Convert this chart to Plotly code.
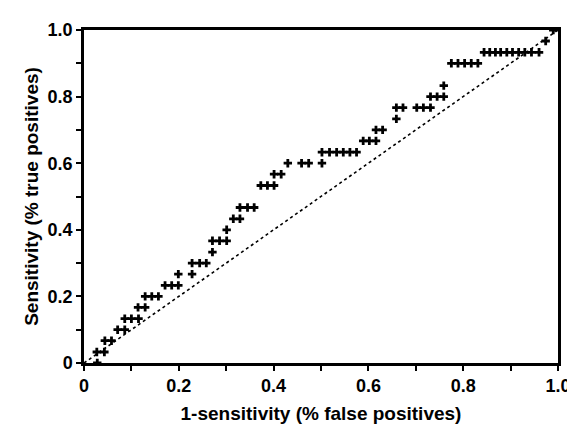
import plotly.graph_objects as go

# ROC points (false positive rate, true positive rate)
fpr = [0.028,
       0.027, 0.043,
       0.044, 0.058,
       0.071, 0.086,
       0.086, 0.100, 0.115,
       0.114, 0.129,
       0.129, 0.143, 0.157,
       0.171, 0.185, 0.199,
       0.199, 0.228,
       0.228, 0.244, 0.258,
       0.271,
       0.271, 0.286, 0.301,
       0.301,
       0.315, 0.329,
       0.329, 0.345, 0.359,
       0.373, 0.387, 0.401,
       0.401, 0.416,
       0.430, 0.459, 0.474, 0.502,
       0.502, 0.518, 0.533, 0.547, 0.561, 0.575,
       0.589, 0.602, 0.616,
       0.616, 0.630,
       0.659,
       0.659, 0.673, 0.702, 0.716, 0.731,
       0.731, 0.745, 0.759,
       0.759,
       0.775, 0.789, 0.803, 0.817, 0.831,
       0.844, 0.856, 0.868, 0.879, 0.892, 0.904, 0.917, 0.930, 0.944, 0.960,
       0.974, 0.990]
tpr = [0.0,
       0.033, 0.033,
       0.067, 0.067,
       0.100, 0.100,
       0.133, 0.133, 0.133,
       0.167, 0.167,
       0.200, 0.200, 0.200,
       0.233, 0.233, 0.233,
       0.267, 0.267,
       0.300, 0.300, 0.300,
       0.333,
       0.367, 0.367, 0.367,
       0.400,
       0.433, 0.433,
       0.467, 0.467, 0.467,
       0.533, 0.533, 0.533,
       0.567, 0.567,
       0.600, 0.600, 0.600, 0.600,
       0.633, 0.633, 0.633, 0.633, 0.633, 0.633,
       0.667, 0.667, 0.667,
       0.700, 0.700,
       0.733,
       0.767, 0.767, 0.767, 0.767, 0.767,
       0.800, 0.800, 0.800,
       0.833,
       0.900, 0.900, 0.900, 0.900, 0.900,
       0.933, 0.933, 0.933, 0.933, 0.933, 0.933, 0.933, 0.933, 0.933, 0.933,
       0.967, 1.0]

diag = [0, 1]
tick_vals = [0, 0.1, 0.2, 0.3, 0.4, 0.5, 0.6, 0.7, 0.8, 0.9, 1.0]
tick_text = ["0", "", "0.2", "", "0.4", "", "0.6", "", "0.8", "", "1.0"]

FAM = "Liberation Sans, Arial, sans-serif"

fig = go.Figure()
fig.add_trace(go.Scatter(x=diag, y=diag, mode="lines",
                         line=dict(color="black", width=1.6, dash="dot"),
                         hoverinfo="skip"))
fig.add_trace(go.Scatter(x=fpr, y=tpr, mode="markers",
                         marker=dict(symbol="cross", size=7, color="black",
                                     line=dict(width=0))))

axis_common = dict(range=[0, 1], tickvals=tick_vals, ticktext=tick_text,
                   ticks="outside", ticklen=5, tickwidth=2, tickcolor="black",
                   showline=True, linewidth=2.5, linecolor="black", mirror=True,
                   showgrid=False, zeroline=False,
                   tickfont=dict(family=FAM, size=18, color="black", weight="bold"))

fig.update_layout(
    width=575, height=426,
    margin=dict(l=76, r=20, t=20, b=62),
    paper_bgcolor="white", plot_bgcolor="white",
    showlegend=False,
    font=dict(family=FAM, size=18, color="black"),
    xaxis=dict(**axis_common,
               title=dict(text="1-sensitivity (% false positives)",
                          font=dict(family=FAM, size=19, weight="bold"), standoff=12)),
    yaxis=dict(**axis_common,
               title=dict(text="Sensitivity (% true positives)",
                          font=dict(family=FAM, size=19, weight="bold"), standoff=4)),
)

fig.write_html("out.html")
